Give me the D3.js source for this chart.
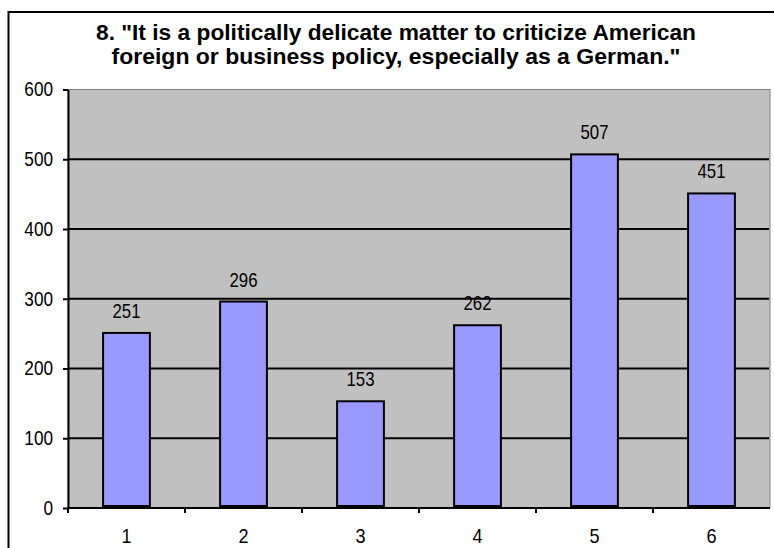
<!DOCTYPE html>
<html>
<head>
<meta charset="utf-8">
<script src="https://cdn.jsdelivr.net/npm/d3@7"></script>
<style>
  html, body { margin: 0; padding: 0; background: #fff; }
  svg { display: block; }
  text { font-family: "Liberation Sans", Arial, sans-serif; fill: #000; }
</style>
</head>
<body>
<script>
// Survey item 8: number of responses per answer choice
const categories = ["1", "2", "3", "4", "5", "6"];
const responses = [251, 296, 153, 262, 507, 451];
const yTicks = [0, 100, 200, 300, 400, 500, 600];
const titleLines = [
  "8. \"It is a politically delicate matter to criticize American",
  "foreign or business policy, especially as a German.\""
];

const W = 774, H = 548;
const plot = { left: 68, right: 770, top: 89.5, bottom: 508 };

const svg = d3.select("body").append("svg")
  .attr("width", W).attr("height", H);

// Narrow the glyphs of a text element to a fraction of their natural width
function squeeze(sel, factor) {
  sel.each(function () {
    const len = this.getComputedTextLength();
    d3.select(this)
      .attr("textLength", len * factor)
      .attr("lengthAdjust", "spacingAndGlyphs");
  });
}

// Chart frame
svg.append("rect")
  .attr("x", 8.5).attr("y", 12)
  .attr("width", W + 20).attr("height", H + 20)
  .attr("fill", "#fff").attr("stroke", "#000").attr("stroke-width", 2);

// Title
const title = svg.append("g");
title.selectAll("text").data(titleLines).join("text")
  .attr("x", 396)
  .attr("y", (d, i) => 40 + i * 24)
  .attr("text-anchor", "middle")
  .attr("font-size", 22)
  .attr("font-weight", "bold")
  .text(d => d);
title.selectAll("text").each(function (d, i) {
  d3.select(this)
    .attr("textLength", i === 0 ? 600 : 569)
    .attr("lengthAdjust", "spacingAndGlyphs");
});

const x = d3.scaleBand()
  .domain(categories)
  .range([plot.left, plot.right])
  .paddingInner(0.6)
  .paddingOuter(0.3);

const xCat = d3.scaleBand()
  .domain(categories)
  .range([plot.left, plot.right]);

const y = d3.scaleLinear()
  .domain([0, 600])
  .range([plot.bottom, plot.top]);

// Plot background
svg.append("rect")
  .attr("x", plot.left).attr("y", plot.top)
  .attr("width", plot.right - plot.left)
  .attr("height", plot.bottom - plot.top)
  .attr("fill", "#c0c0c0")
  .attr("stroke", "#808080").attr("stroke-width", 1);

// Gridlines
svg.append("g").selectAll("line")
  .data(yTicks.filter(t => t > 0 && t < 600))
  .join("line")
  .attr("x1", plot.left).attr("x2", plot.right - 1)
  .attr("y1", d => y(d)).attr("y2", d => y(d))
  .attr("stroke", "#000").attr("stroke-width", 2);

// Bars
svg.append("g").selectAll("rect")
  .data(responses)
  .join("rect")
  .attr("x", (d, i) => x(categories[i]))
  .attr("y", d => y(d))
  .attr("width", x.bandwidth())
  .attr("height", d => y(0) - y(d) - 2)
  .attr("fill", "#9999ff")
  .attr("stroke", "#000").attr("stroke-width", 2);

// Value labels
const vals = svg.append("g").selectAll("text")
  .data(responses)
  .join("text")
  .attr("x", (d, i) => x(categories[i]) + x.bandwidth() / 2)
  .attr("y", d => y(d) - 15)
  .attr("text-anchor", "middle")
  .attr("font-size", 21)
  .text(d => d);
squeeze(vals, 0.8);

// Y axis
const yAxis = svg.append("g")
  .attr("transform", `translate(${plot.left},0)`)
  .call(d3.axisLeft(y).tickValues(yTicks).tickSize(5).tickPadding(10).tickSizeOuter(0));
yAxis.select(".domain").attr("stroke", "#000").attr("stroke-width", 2);
yAxis.selectAll(".tick line").attr("stroke", "#000").attr("stroke-width", 2);
yAxis.selectAll(".tick text")
  .attr("font-size", 20)
  .attr("font-family", "\"Liberation Sans\", Arial, sans-serif")
  .attr("fill", "#000");
squeeze(yAxis.selectAll(".tick text"), 0.86);

// X axis: labels at category centres, ticks at category boundaries
const xAxis = svg.append("g")
  .attr("transform", `translate(0,${plot.bottom})`);
xAxis.append("line")
  .attr("x1", plot.left - 1).attr("x2", plot.right)
  .attr("y1", 0).attr("y2", 0)
  .attr("stroke", "#000").attr("stroke-width", 2);
xAxis.selectAll("line.tick")
  .data(categories)
  .join("line")
  .attr("class", "tick")
  .attr("x1", d => xCat(d)).attr("x2", d => xCat(d))
  .attr("y1", 0).attr("y2", 5)
  .attr("stroke", "#000").attr("stroke-width", 2);
const xl = xAxis.selectAll("text")
  .data(categories)
  .join("text")
  .attr("x", d => xCat(d) + xCat.bandwidth() / 2)
  .attr("y", 35)
  .attr("text-anchor", "middle")
  .attr("font-size", 21)
  .text(d => d);
squeeze(xl, 0.86);
</script>
</body>
</html>
